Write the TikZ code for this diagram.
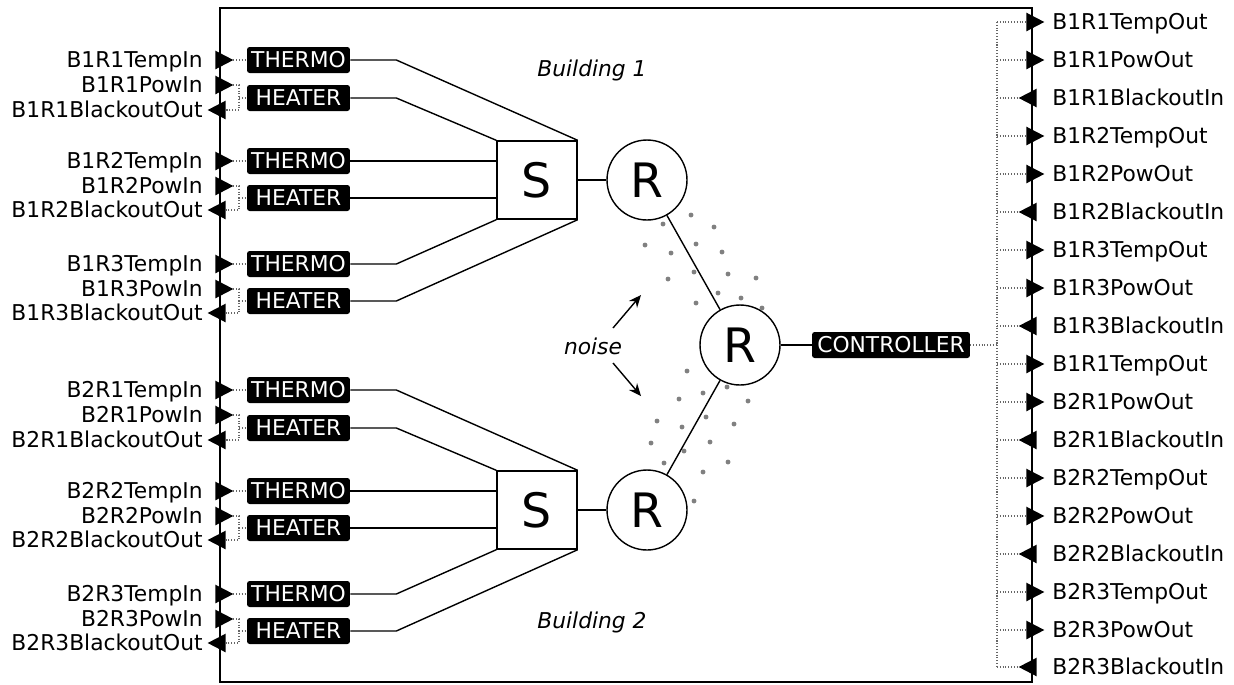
\documentclass[tikz,border=0pt]{standalone}
\usepackage{fontspec}
\setmainfont{DejaVu Sans}
\usetikzlibrary{shapes.geometric,arrows.meta}

\tikzset{
    txt/.style={inner sep=0pt, text height=9pt, text depth=0pt, font=\fontsize{12.4}{14}\selectfont},
    port/.style={txt},
    dev/.style={txt, fill=black, text=white, rounded corners=1.5pt, minimum width=2.06cm, minimum height=0.52cm},
    tipright/.style={isosceles triangle, isosceles triangle apex angle=55,
        fill=black, inner sep=0pt, outer sep=0pt, minimum size=0.36cm},
    tipleft/.style={tipright, shape border rotate=180},
    link/.style={densely dotted, line width=0.6pt, black!60},
    wire/.style={line width=0.8pt},
    sw/.style={draw, line width=0.8pt, minimum width=1.6cm, minimum height=1.56cm, inner sep=0pt, font=\fontsize{27}{30}\selectfont},
    rt/.style={draw, circle, line width=0.8pt, minimum size=1.6cm, inner sep=0pt, font=\fontsize{27}{30}\selectfont},
}

\begin{document}
\begin{tikzpicture}[x=0.02cm, y=-0.02cm]
    \useasboundingbox (0,0) rectangle (1234,684);

    % outer box
    \draw[line width=1pt] (220,8) rectangle (1032,682);

    % switches and routers
    \node[sw] (s1) at (537,180) {S};
    \node[sw] (s2) at (537,510) {S};
    \node[rt] (r1) at (647,180) {R};
    \node[rt] (r2) at (647,510) {R};
    \node[rt] (rm) at (740,345) {R};
    \node[dev, minimum width=3.16cm] (ctrl) at (891,345) {CONTROLLER};

    \draw[wire] (s1) -- (r1);
    \draw[wire] (s2) -- (r2);
    \draw[wire] (r1) -- (rm);
    \draw[wire] (r2) -- (rm);
    \draw[wire] (rm) -- (ctrl);

    % labels
    \node[txt, font=\fontsize{12.4}{14}\selectfont\itshape] (bld1) at (592,69) {Building 1};
    \node[txt, font=\fontsize{12.4}{14}\selectfont\itshape] (bld2) at (592,621) {Building 2};
    \node[txt, font=\fontsize{12.4}{14}\selectfont\itshape] (noise) at (593,347) {noise};
    \coordinate (nu0) at (613,328);
    \coordinate (nu1) at (641,295);
    \coordinate (nd0) at (613,363);
    \coordinate (nd1) at (641,396);
    \draw[wire, -{Stealth[length=7pt,width=6pt]}] (nu0) -- (nu1);
    \draw[wire, -{Stealth[length=7pt,width=6pt]}] (nd0) -- (nd1);

    % noise dots
    \fill[black!50] (691,215) circle (1.4pt) (714,227) circle (1.4pt) (663,224) circle (1.4pt)
        (645,245) circle (1.4pt) (696,244) circle (1.4pt) (671,253) circle (1.4pt)
        (722,252) circle (1.4pt) (694,272) circle (1.4pt) (728,274) circle (1.4pt)
        (756,278) circle (1.4pt) (668,279) circle (1.4pt) (718,293) circle (1.4pt)
        (741,298) circle (1.4pt) (762,308) circle (1.4pt) (696,303) circle (1.4pt);
    \fill[black!50] (687,371) circle (1.4pt) (727,387) circle (1.4pt) (703,393) circle (1.4pt)
        (748,401) circle (1.4pt) (679,399) circle (1.4pt) (706,417) circle (1.4pt)
        (657,421) circle (1.4pt) (734,424) circle (1.4pt) (682,427) circle (1.4pt)
        (651,443) circle (1.4pt) (710,442) circle (1.4pt) (684,451) circle (1.4pt)
        (728,462) circle (1.4pt) (664,463) circle (1.4pt) (703,472) circle (1.4pt)
        (694,501) circle (1.4pt);

    % B1R1
    \node[dev] (th11) at (298.5,60) {THERMO};
    \node[dev] (he11) at (298.5,98) {HEATER};
    \node[tipright] (at11) at (221,60) {};
    \node[tipright] (ap11) at (221,85) {};
    \node[tipleft] (ab11) at (220,110) {};
    \node[port, anchor=east] (lt11) at (203,60) {B1R1TempIn};
    \node[port, anchor=east] (lp11) at (203,85) {B1R1PowIn};
    \node[port, anchor=east] (lb11) at (203,110) {B1R1BlackoutOut};
    \coordinate (k11) at (239,98);
    \draw[link] (at11.apex) -- (th11);
    \draw[link] (ap11.apex) -| (k11) |- (ab11.lower side);
    \draw[link] (k11) -- (he11);
    \draw[wire] (th11.east) -- ++(46,0) -- (s1.north east);
    \draw[wire] (he11.east) -- ++(46,0) -- (s1.north west);

    % B1R2
    \node[dev] (th12) at (298.5,161) {THERMO};
    \node[dev] (he12) at (298.5,198) {HEATER};
    \node[tipright] (at12) at (221,161) {};
    \node[tipright] (ap12) at (221,186) {};
    \node[tipleft] (ab12) at (220,210) {};
    \node[port, anchor=east] (lt12) at (203,161) {B1R2TempIn};
    \node[port, anchor=east] (lp12) at (203,186) {B1R2PowIn};
    \node[port, anchor=east] (lb12) at (203,210) {B1R2BlackoutOut};
    \coordinate (k12) at (239,198);
    \draw[link] (at12.apex) -- (th12);
    \draw[link] (ap12.apex) -| (k12) |- (ab12.lower side);
    \draw[link] (k12) -- (he12);
    \draw[wire] (th12.east) -- (th12.east -| s1.west);
    \draw[wire] (he12.east) -- (he12.east -| s1.west);

    % B1R3
    \node[dev] (th13) at (298.5,264) {THERMO};
    \node[dev] (he13) at (298.5,301) {HEATER};
    \node[tipright] (at13) at (221,264) {};
    \node[tipright] (ap13) at (221,289) {};
    \node[tipleft] (ab13) at (220,313) {};
    \node[port, anchor=east] (lt13) at (203,264) {B1R3TempIn};
    \node[port, anchor=east] (lp13) at (203,289) {B1R3PowIn};
    \node[port, anchor=east] (lb13) at (203,313) {B1R3BlackoutOut};
    \coordinate (k13) at (239,301);
    \draw[link] (at13.apex) -- (th13);
    \draw[link] (ap13.apex) -| (k13) |- (ab13.lower side);
    \draw[link] (k13) -- (he13);
    \draw[wire] (th13.east) -- ++(46,0) -- (s1.south west);
    \draw[wire] (he13.east) -- ++(46,0) -- (s1.south east);

    % B2R1
    \node[dev] (th21) at (298.5,390) {THERMO};
    \node[dev] (he21) at (298.5,428) {HEATER};
    \node[tipright] (at21) at (221,390) {};
    \node[tipright] (ap21) at (221,415) {};
    \node[tipleft] (ab21) at (220,440) {};
    \node[port, anchor=east] (lt21) at (203,390) {B2R1TempIn};
    \node[port, anchor=east] (lp21) at (203,415) {B2R1PowIn};
    \node[port, anchor=east] (lb21) at (203,440) {B2R1BlackoutOut};
    \coordinate (k21) at (239,428);
    \draw[link] (at21.apex) -- (th21);
    \draw[link] (ap21.apex) -| (k21) |- (ab21.lower side);
    \draw[link] (k21) -- (he21);
    \draw[wire] (th21.east) -- ++(46,0) -- (s2.north east);
    \draw[wire] (he21.east) -- ++(46,0) -- (s2.north west);

    % B2R2
    \node[dev] (th22) at (298.5,491) {THERMO};
    \node[dev] (he22) at (298.5,528) {HEATER};
    \node[tipright] (at22) at (221,491) {};
    \node[tipright] (ap22) at (221,516) {};
    \node[tipleft] (ab22) at (220,540) {};
    \node[port, anchor=east] (lt22) at (203,491) {B2R2TempIn};
    \node[port, anchor=east] (lp22) at (203,516) {B2R2PowIn};
    \node[port, anchor=east] (lb22) at (203,540) {B2R2BlackoutOut};
    \coordinate (k22) at (239,528);
    \draw[link] (at22.apex) -- (th22);
    \draw[link] (ap22.apex) -| (k22) |- (ab22.lower side);
    \draw[link] (k22) -- (he22);
    \draw[wire] (th22.east) -- (th22.east -| s2.west);
    \draw[wire] (he22.east) -- (he22.east -| s2.west);

    % B2R3
    \node[dev] (th23) at (298.5,594) {THERMO};
    \node[dev] (he23) at (298.5,631) {HEATER};
    \node[tipright] (at23) at (221,594) {};
    \node[tipright] (ap23) at (221,619) {};
    \node[tipleft] (ab23) at (220,643) {};
    \node[port, anchor=east] (lt23) at (203,594) {B2R3TempIn};
    \node[port, anchor=east] (lp23) at (203,619) {B2R3PowIn};
    \node[port, anchor=east] (lb23) at (203,643) {B2R3BlackoutOut};
    \coordinate (k23) at (239,631);
    \draw[link] (at23.apex) -- (th23);
    \draw[link] (ap23.apex) -| (k23) |- (ab23.lower side);
    \draw[link] (k23) -- (he23);
    \draw[wire] (th23.east) -- ++(46,0) -- (s2.south west);
    \draw[wire] (he23.east) -- ++(46,0) -- (s2.south east);

    % controller outputs
    \coordinate (bus) at (997,345);
    \node[tipright] (o1) at (1032,22) {};   \node[port, anchor=west] (lo1) at (1052,22) {B1R1TempOut};
    \node[tipright] (o2) at (1032,60) {};   \node[port, anchor=west] (lo2) at (1052,60) {B1R1PowOut};
    \node[tipleft]  (o3) at (1031,98) {};   \node[port, anchor=west] (lo3) at (1052,98) {B1R1BlackoutIn};
    \node[tipright] (o4) at (1032,136) {};  \node[port, anchor=west] (lo4) at (1052,136) {B1R2TempOut};
    \node[tipright] (o5) at (1032,174) {};  \node[port, anchor=west] (lo5) at (1052,174) {B1R2PowOut};
    \node[tipleft]  (o6) at (1031,212) {};  \node[port, anchor=west] (lo6) at (1052,212) {B1R2BlackoutIn};
    \node[tipright] (o7) at (1032,250) {};  \node[port, anchor=west] (lo7) at (1052,250) {B1R3TempOut};
    \node[tipright] (o8) at (1032,288) {};  \node[port, anchor=west] (lo8) at (1052,288) {B1R3PowOut};
    \node[tipleft]  (o9) at (1031,326) {};  \node[port, anchor=west] (lo9) at (1052,326) {B1R3BlackoutIn};
    \node[tipright] (o10) at (1032,364) {}; \node[port, anchor=west] (lo10) at (1052,364) {B1R1TempOut};
    \node[tipright] (o11) at (1032,402) {}; \node[port, anchor=west] (lo11) at (1052,402) {B2R1PowOut};
    \node[tipleft]  (o12) at (1031,440) {}; \node[port, anchor=west] (lo12) at (1052,440) {B2R1BlackoutIn};
    \node[tipright] (o13) at (1032,478) {}; \node[port, anchor=west] (lo13) at (1052,478) {B2R2TempOut};
    \node[tipright] (o14) at (1032,516) {}; \node[port, anchor=west] (lo14) at (1052,516) {B2R2PowOut};
    \node[tipleft]  (o15) at (1031,554) {}; \node[port, anchor=west] (lo15) at (1052,554) {B2R2BlackoutIn};
    \node[tipright] (o16) at (1032,592) {}; \node[port, anchor=west] (lo16) at (1052,592) {B2R3TempOut};
    \node[tipright] (o17) at (1032,630) {}; \node[port, anchor=west] (lo17) at (1052,630) {B2R3PowOut};
    \node[tipleft]  (o18) at (1031,667) {}; \node[port, anchor=west] (lo18) at (1052,667) {B2R3BlackoutIn};

    \draw[link] (ctrl) -- (bus);
    \draw[link] (bus |- o1) -- (bus |- o18);
    \draw[link] (bus |- o1) -- (o1.lower side);
    \draw[link] (bus |- o2) -- (o2.lower side);
    \draw[link] (bus |- o3) -- (o3.apex);
    \draw[link] (bus |- o4) -- (o4.lower side);
    \draw[link] (bus |- o5) -- (o5.lower side);
    \draw[link] (bus |- o6) -- (o6.apex);
    \draw[link] (bus |- o7) -- (o7.lower side);
    \draw[link] (bus |- o8) -- (o8.lower side);
    \draw[link] (bus |- o9) -- (o9.apex);
    \draw[link] (bus |- o10) -- (o10.lower side);
    \draw[link] (bus |- o11) -- (o11.lower side);
    \draw[link] (bus |- o12) -- (o12.apex);
    \draw[link] (bus |- o13) -- (o13.lower side);
    \draw[link] (bus |- o14) -- (o14.lower side);
    \draw[link] (bus |- o15) -- (o15.apex);
    \draw[link] (bus |- o16) -- (o16.lower side);
    \draw[link] (bus |- o17) -- (o17.lower side);
    \draw[link] (bus |- o18) -- (o18.apex);
\end{tikzpicture}
\end{document}
